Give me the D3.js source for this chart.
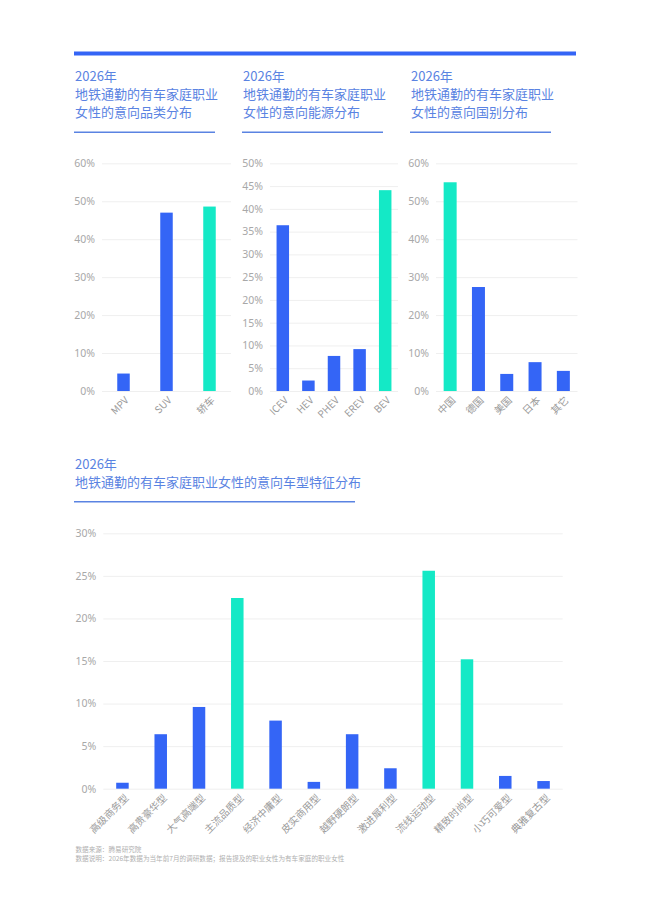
<!DOCTYPE html>
<html>
<head>
<meta charset="utf-8">
<script src="https://cdn.jsdelivr.net/npm/d3@7"></script>
<style>
  html, body { margin: 0; padding: 0; background: #fff; }
  svg { display: block; font-family: "Noto Sans CJK SC", "Noto Sans", sans-serif; }
</style>
</head>
<body>
<div id="svg-container"></div>
<script>
// chart data
const categoryLabels = ['MPV', 'SUV', '轿车']
const categoryValues = [4.6, 47.0, 48.6]
const categoryHighlight = ['轿车']

const energyLabels = ['ICEV', 'HEV', 'PHEV', 'EREV', 'BEV']
const energyValues = [36.4, 2.3, 7.7, 9.2, 44.1]
const energyHighlight = ['BEV']

const countryLabels = ['中国', '德国', '美国', '日本', '其它']
const countryValues = [55.0, 27.4, 4.5, 7.6, 5.3]
const countryHighlight = ['中国']

const styleLabels = [
  '高级商务型', '高贵豪华型', '大气高端型', '主流品质型', '经济中庸型', '皮实商用型',
  '越野硬朗型', '激进犀利型', '流线运动型', '精致时尚型', '小巧可爱型', '典雅复古型',
]
const styleValues = [0.7, 6.4, 9.6, 22.4, 8.0, 0.8, 6.4, 2.4, 25.6, 15.2, 1.5, 0.9]
const styleHighlight = ['主流品质型', '流线运动型', '精致时尚型']

const blue = '#3465f6'
const teal = '#14e9c6'
const titleColor = '#5a83e2'

const width = 650
const height = 912

const svg = d3
  .select('#svg-container')
  .append('svg')
  .attr('width', width)
  .attr('height', height)
  .attr('viewBox', `0 0 ${width} ${height}`)

// top rule
svg.append('rect')
  .attr('x', 74).attr('y', 51.5)
  .attr('width', 502).attr('height', 4)
  .attr('fill', blue)

const drawTitle = (x, lines, y0, lineEnd, ruleY) => {
  const t = svg.append('text')
    .attr('fill', titleColor)
    .attr('font-size', 13)
  lines.forEach((l, i) => {
    t.append('tspan').attr('x', x).attr('y', y0 + i * 18).text(l)
  })
  svg.append('line')
    .attr('x1', x - 1).attr('x2', lineEnd)
    .attr('y1', ruleY).attr('y2', ruleY)
    .attr('stroke', titleColor)
    .attr('stroke-width', 1.5)
}

const drawBars = opts => {
  const {
    labels, values, highlight, x0, x1, yTop, yBottom, maxY, step,
    labelDx, labelDy, fontSize, barWidth,
  } = opts

  const x = d3.scaleBand().domain(labels).range([x0, x1])
  const y = d3.scaleLinear().domain([0, maxY]).range([yBottom, yTop])

  const g = svg.append('g')

  const yAxis = d3.axisLeft(y)
    .tickValues(d3.range(0, maxY + 0.001, step))
    .tickFormat(d => `${d}%`)
    .tickSize(-(x1 - x0))
    .tickPadding(7)

  g.append('g')
    .attr('transform', `translate(${x0},0)`)
    .call(yAxis)
    .call(s => s.select('.domain').remove())
    .call(s => s.selectAll('.tick line').attr('stroke', '#efefef').attr('stroke-width', 1))
    .call(s => s.selectAll('.tick text')
      .attr('fill', '#a8a8a8')
      .attr('font-size', 10.5)
      .attr('font-family', '"Noto Sans", sans-serif'))

  g.selectAll('.bar')
    .data(labels)
    .join('rect')
    .attr('class', 'bar')
    .attr('x', d => x(d) + x.bandwidth() / 2 - barWidth / 2)
    .attr('width', barWidth)
    .attr('y', (d, i) => y(values[i]))
    .attr('height', (d, i) => yBottom - y(values[i]))
    .attr('fill', d => (highlight.includes(d) ? teal : blue))

  g.selectAll('.xlab')
    .data(labels)
    .join('text')
    .attr('class', 'xlab')
    .attr('transform', d =>
      `translate(${x(d) + x.bandwidth() / 2 + labelDx},${yBottom + labelDy}) rotate(-45)`)
    .attr('text-anchor', 'end')
    .attr('dominant-baseline', 'middle')
    .attr('fill', '#9a9a9a')
    .attr('font-size', fontSize)
    .text(d => d)
}

// small charts
drawTitle(75, ['2026年', '地铁通勤的有车家庭职业', '女性的意向品类分布'], 81, 215, 132.3)
drawTitle(243, ['2026年', '地铁通勤的有车家庭职业', '女性的意向能源分布'], 81, 383, 132.3)
drawTitle(411, ['2026年', '地铁通勤的有车家庭职业', '女性的意向国别分布'], 81, 551, 132.3)

drawBars({
  labels: categoryLabels, values: categoryValues, highlight: categoryHighlight,
  x0: 102, x1: 231, yTop: 163.3, yBottom: 391, maxY: 60, step: 10,
  labelDx: 4, labelDy: 8, fontSize: 10, barWidth: 12.5,
})
drawBars({
  labels: energyLabels, values: energyValues, highlight: energyHighlight,
  x0: 270, x1: 398, yTop: 163.3, yBottom: 391, maxY: 50, step: 5,
  labelDx: 4, labelDy: 8, fontSize: 10, barWidth: 12.5,
})
drawBars({
  labels: countryLabels, values: countryValues, highlight: countryHighlight,
  x0: 436, x1: 577.5, yTop: 163.3, yBottom: 391, maxY: 60, step: 10,
  labelDx: 4, labelDy: 8, fontSize: 10, barWidth: 13,
})

// large chart
drawTitle(75, ['2026年', '地铁通勤的有车家庭职业女性的意向车型特征分布'], 469, 355, 501.7)

drawBars({
  labels: styleLabels, values: styleValues, highlight: styleHighlight,
  x0: 103.3, x1: 562.7, yTop: 533.3, yBottom: 788.7, maxY: 30, step: 5,
  labelDx: 5, labelDy: 8, fontSize: 10, barWidth: 12.5,
})

// footnote
const foot = svg.append('text')
  .attr('fill', '#b0b0b0')
  .attr('font-size', 6.6)
foot.append('tspan').attr('x', 75.5).attr('y', 852).text('数据来源：腾易研究院')
foot.append('tspan').attr('x', 75.5).attr('y', 861)
  .text('数据说明：2026年数据为当年前7月的调研数据；报告提及的职业女性为有车家庭的职业女性')
</script>
</body>
</html>
